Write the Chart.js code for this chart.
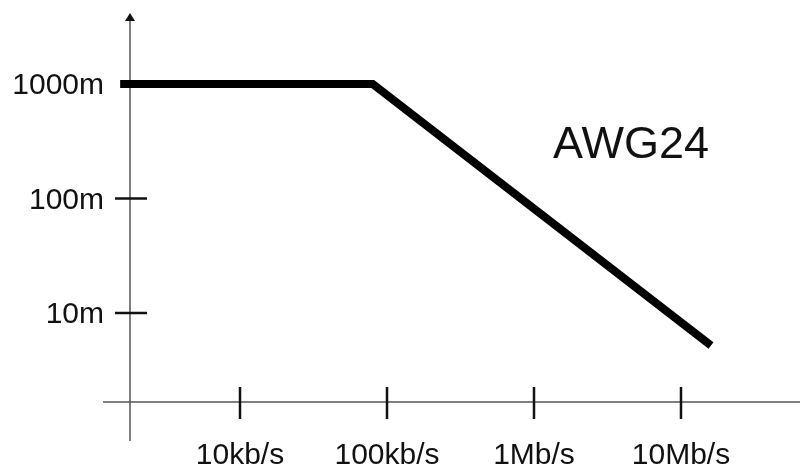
<!DOCTYPE html>
<html>
<head>
<meta charset="utf-8">
<script src="https://cdn.jsdelivr.net/npm/chart.js@4.4.1/dist/chart.umd.min.js"></script>
<style>
  html, body { margin: 0; padding: 0; background: #fff; }
  #wrap { width: 801px; height: 466px; }
</style>
</head>
<body>
<div id="wrap"><canvas id="awgChart"></canvas></div>
<script>
const rateTicks = [1e4, 1e5, 1e6, 1e7];
const rateLabels = ['10kb/s', '100kb/s', '1Mb/s', '10Mb/s'];
const lengthTicks = [10, 100, 1000];
const lengthLabels = ['10m', '100m', '1000m'];

const seriesLabel = 'AWG24';
const rates = [1530, 80000, 16000000];
const lengths = [1000, 1000, 5.2];

const FONT = "'Liberation Sans', Arial, Helvetica, sans-serif";

// drop the edge padding chart.js reserves for the outer labels
function noEdgePadding(scale) {
  scale.paddingTop = 0;
  scale.paddingBottom = 0;
  scale.paddingLeft = 0;
  scale.paddingRight = 0;
}

const axesPlugin = {
  id: 'axes',
  beforeDatasetsDraw(chart) {
    const { ctx, chartArea: a, scales: { x, y } } = chart;
    ctx.save();
    ctx.strokeStyle = '#555';
    ctx.lineWidth = 1.5;
    ctx.beginPath();
    ctx.moveTo(a.left, a.bottom + 39);
    ctx.lineTo(a.left, a.top + 7);
    ctx.moveTo(a.left - 27, a.bottom);
    ctx.lineTo(a.right, a.bottom);
    ctx.stroke();

    // arrow head on the length axis
    ctx.fillStyle = '#111';
    ctx.beginPath();
    ctx.moveTo(a.left, a.top);
    ctx.lineTo(a.left - 5, a.top + 8);
    ctx.lineTo(a.left + 5, a.top + 8);
    ctx.closePath();
    ctx.fill();

    ctx.strokeStyle = '#111';
    ctx.lineWidth = 2.5;
    ctx.beginPath();
    rateTicks.forEach((v) => {
      const px = x.getPixelForValue(v);
      ctx.moveTo(px, a.bottom - 15);
      ctx.lineTo(px, a.bottom + 17);
    });
    // top tick is hidden under the curve
    lengthTicks.slice(0, -1).forEach((v) => {
      const py = y.getPixelForValue(v);
      ctx.moveTo(a.left - 15, py);
      ctx.lineTo(a.left + 17, py);
    });
    ctx.stroke();
    ctx.restore();
  },
  afterDatasetsDraw(chart) {
    const { ctx, chartArea: a } = chart;
    ctx.save();
    ctx.fillStyle = '#111';
    ctx.font = '45px ' + FONT;
    ctx.textAlign = 'center';
    ctx.textBaseline = 'alphabetic';
    ctx.fillText(seriesLabel, a.left + 501, a.top + 145);
    ctx.restore();
  },
};

const chart = new Chart(document.getElementById('awgChart'), {
  type: 'line',
  data: {
    datasets: [
      {
        label: seriesLabel,
        data: rates.map((r, i) => ({ x: r, y: lengths[i] })),
        borderColor: '#000',
        borderWidth: 8,
        borderJoinStyle: 'miter',
        borderCapStyle: 'butt',
        pointRadius: 0,
        tension: 0,
        fill: false,
        clip: false,
      },
    ],
  },
  plugins: [axesPlugin],
  options: {
    responsive: true,
    maintainAspectRatio: false,
    animation: false,
    layout: { padding: { top: 13, right: 1, left: 0, bottom: 0 } },
    plugins: {
      legend: { display: false },
      tooltip: { enabled: false },
    },
    scales: {
      x: {
        type: 'logarithmic',
        min: 1785,
        max: 6.45e7,
        border: { display: false },
        grid: { display: false, drawTicks: false },
        afterFit: (scale) => { scale.height = 64; noEdgePadding(scale); },
        afterBuildTicks: (scale) => { scale.ticks = rateTicks.map((v) => ({ value: v })); },
        ticks: {
          autoSkip: false,
          maxRotation: 0,
          padding: 36,
          color: '#111',
          font: { family: FONT, size: 30 },
          callback: (v) => rateLabels[rateTicks.indexOf(v)],
        },
      },
      y: {
        type: 'logarithmic',
        min: 1.67,
        max: 4170,
        border: { display: false },
        grid: { display: false, drawTicks: false },
        afterFit: (scale) => { scale.width = 130; noEdgePadding(scale); },
        afterBuildTicks: (scale) => { scale.ticks = lengthTicks.map((v) => ({ value: v })); },
        ticks: {
          autoSkip: false,
          padding: 26,
          labelOffset: 2,
          color: '#111',
          font: { family: FONT, size: 30 },
          callback: (v) => lengthLabels[lengthTicks.indexOf(v)],
        },
      },
    },
  },
});
</script>
</body>
</html>
